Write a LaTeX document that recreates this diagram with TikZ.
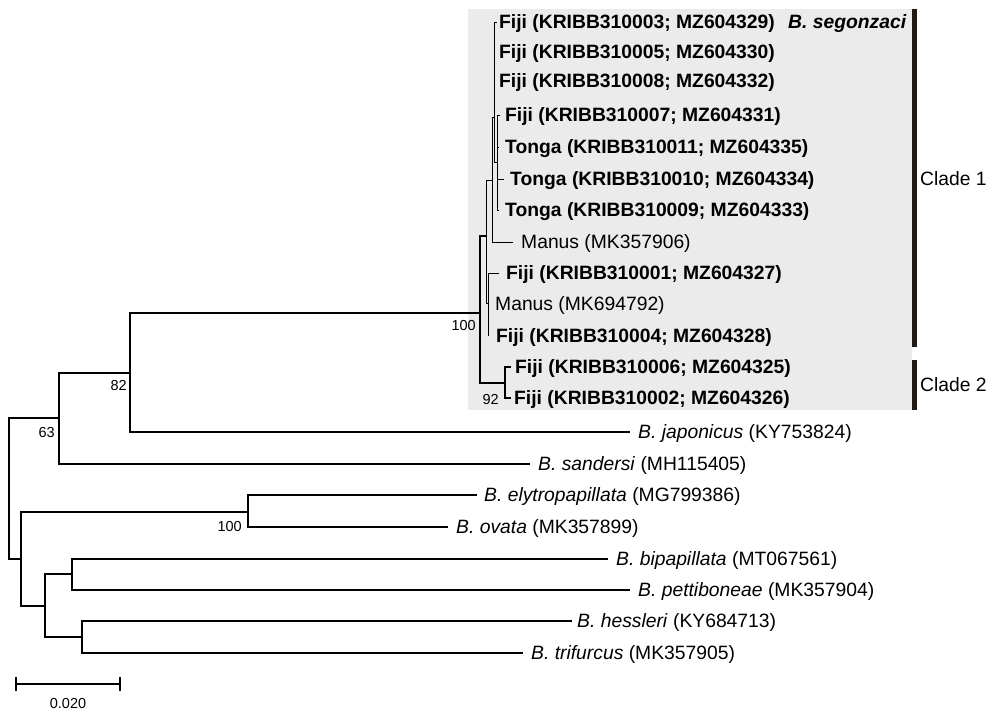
\documentclass[tikz,border=0pt]{standalone}
\usepackage{fontspec}
\setmainfont{Liberation Sans}
\definecolor{boxgrey}{HTML}{EBEBEB}
\definecolor{barcol}{HTML}{231815}
\begin{document}
\begin{tikzpicture}[x=1pt,y=-1pt,
  br/.style={draw=black, line width=1.3pt},
  thinbr/.style={draw=black, line width=0.9pt},
  lab/.style={anchor=west, inner sep=0pt, text height=13.8pt, text depth=0pt, font=\fontsize{19.3}{22}\selectfont},
  blab/.style={lab, font=\fontsize{19.3}{22}\selectfont\bfseries},
  sup/.style={anchor=east, inner sep=0pt, text height=10.4pt, text depth=0pt, font=\fontsize{14.5}{16}\selectfont},
  cbar/.style={draw=barcol, line width=5pt}]
\useasboundingbox (0,0) rectangle (988,712);
\fill[boxgrey] (468,9) rectangle (912,410);

% internal nodes
\coordinate (root) at (9,488);
\coordinate (n63) at (59,418);
\coordinate (nL) at (21,559);
\coordinate (n82) at (130,373);
\coordinate (n100) at (480,313);
\coordinate (nA) at (486,236);
\coordinate (nB) at (492,180);
\coordinate (nC) at (494.5,117);
\coordinate (nD) at (497,162);
\coordinate (nE) at (488.5,303);
\coordinate (nF) at (505,383);
\coordinate (nEO) at (248,512);
\coordinate (nBT) at (45,606);
\coordinate (nBP) at (72,574);
\coordinate (nHT) at (82,637);

% tips
\coordinate (t1) at (497,22);
\coordinate (t2) at (494.5,52);
\coordinate (t3) at (494.5,81);
\coordinate (t4) at (500,115);
\coordinate (t5) at (499,147);
\coordinate (t6) at (504,179);
\coordinate (t7) at (499,210);
\coordinate (t8) at (513,242);
\coordinate (t9) at (499,273);
\coordinate (t10) at (488.5,304);
\coordinate (t11) at (488.5,336);
\coordinate (t12) at (511,367);
\coordinate (t13) at (511,398);
\coordinate (t14) at (630,432);
\coordinate (t15) at (530,464);
\coordinate (t16) at (477,495);
\coordinate (t17) at (448,527);
\coordinate (t18) at (608,559);
\coordinate (t19) at (630,590);
\coordinate (t20) at (572,621);
\coordinate (t21) at (523,653);

% branches
\draw[br] (root) |- (n63);
\draw[br] (root) |- (nL);
\draw[br] (n63) |- (n82);
\draw[br] (n63) |- (t15);
\draw[br] (n82) |- (n100);
\draw[br] (n82) |- (t14);
\draw[br] (n100) |- (nA);
\draw[br] (n100) |- (nF);
\draw[thinbr] (nA) |- (nB);
\draw[thinbr] (nA) |- (nE);
\draw[thinbr] (nB) |- (nC);
\draw[thinbr] (nB) |- (t8);
\draw[thinbr] (nC) |- (t1);
\draw[thinbr] (nC) |- (t2);
\draw[thinbr] (nC) |- (t3);
\draw[thinbr] (nC) |- (nD);
\draw[thinbr] (nD) |- (t4);
\draw[thinbr] (nD) |- (t5);
\draw[thinbr] (nD) |- (t6);
\draw[thinbr] (nD) |- (t7);
\draw[thinbr] (nE) |- (t9);
\draw[thinbr] (nE) |- (t10);
\draw[thinbr] (nE) |- (t11);
\draw[br] (nF) |- (t12);
\draw[br] (nF) |- (t13);
\draw[br] (nL) |- (nEO);
\draw[br] (nL) |- (nBT);
\draw[br] (nEO) |- (t16);
\draw[br] (nEO) |- (t17);
\draw[br] (nBT) |- (nBP);
\draw[br] (nBT) |- (nHT);
\draw[br] (nBP) |- (t18);
\draw[br] (nBP) |- (t19);
\draw[br] (nHT) |- (t20);
\draw[br] (nHT) |- (t21);

% leaf labels
\node[blab] (L1) at (499,22) {Fiji (KRIBB310003; MZ604329)};
\node[blab] (L2) at (499,52) {Fiji (KRIBB310005; MZ604330)};
\node[blab] (L3) at (499,81) {Fiji (KRIBB310008; MZ604332)};
\node[blab] (L4) at (505,115) {Fiji (KRIBB310007; MZ604331)};
\node[blab] (L5) at (505,147) {Tonga (KRIBB310011; MZ604335)};
\node[blab] (L6) at (510,179) {Tonga (KRIBB310010; MZ604334)};
\node[blab] (L7) at (505,210) {Tonga (KRIBB310009; MZ604333)};
\node[lab] (L8) at (521,242) {Manus (MK357906)};
\node[blab] (L9) at (506,273) {Fiji (KRIBB310001; MZ604327)};
\node[lab] (L10) at (495,304) {Manus (MK694792)};
\node[blab] (L11) at (496,336) {Fiji (KRIBB310004; MZ604328)};
\node[blab] (L12) at (515,367) {Fiji (KRIBB310006; MZ604325)};
\node[blab] (L13) at (514,398) {Fiji (KRIBB310002; MZ604326)};
\node[lab] (L14) at (638,432) {\textit{B. japonicus} (KY753824)};
\node[lab] (L15) at (538,464) {\textit{B. sandersi} (MH115405)};
\node[lab] (L16) at (484,495) {\textit{B. elytropapillata} (MG799386)};
\node[lab] (L17) at (456,527) {\textit{B. ovata} (MK357899)};
\node[lab] (L18) at (616,559) {\textit{B. bipapillata} (MT067561)};
\node[lab] (L19) at (638,590) {\textit{B. pettiboneae} (MK357904)};
\node[lab] (L20) at (577,621) {\textit{B. hessleri} (KY684713)};
\node[lab] (L21) at (531,653) {\textit{B. trifurcus} (MK357905)};
\node[lab, font=\fontsize{19.3}{22}\selectfont\bfseries\itshape] (seg) at (788,22) {B. segonzaci};

% support values
\node[sup] (s100a) at (476,325) {100};
\node[sup] (s92) at (499,399) {92};
\node[sup] (s82) at (127,385) {82};
\node[sup] (s63) at (55,432) {63};
\node[sup] (s100b) at (242,526) {100};

% clade bars
\draw[cbar] (914.5,9) -- (914.5,347);
\draw[cbar] (914.5,360) -- (914.5,410);
\node[lab] (c1) at (920,179) {Clade 1};
\node[lab] (c2) at (920,385) {Clade 2};

% scale bar
\coordinate (sb1) at (16,684);
\coordinate (sb2) at (120,684);
\draw[draw=black, line width=1.8pt] (sb1) -- (sb2);
\draw[draw=black, line width=1.8pt] (16,677) -- (16,691);
\draw[draw=black, line width=1.8pt] (120,677) -- (120,691);
\node[sup, anchor=center] (sbl) at (68,703) {0.020};
\end{tikzpicture}
\end{document}
